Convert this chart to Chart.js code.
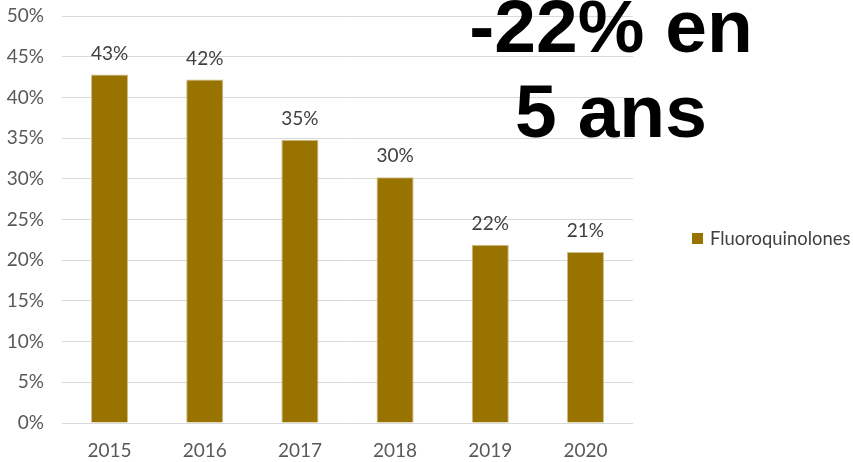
<!DOCTYPE html>
<html lang="fr">
<head>
<meta charset="utf-8">
<title>Fluoroquinolones 2015-2020</title>
<script src="https://cdn.jsdelivr.net/npm/chart.js@4"></script>
<style>
  html, body { margin: 0; padding: 0; background: #fff; }
  #wrap { position: relative; width: 853px; height: 462px; }
  #headline {
    position: absolute; left: 461px; top: -16px; width: 300px;
    font: bold 75px/85px "Liberation Sans", Arial, sans-serif;
    color: #000; text-align: center; white-space: nowrap;
  }
  #legend {
    position: absolute; left: 692px; top: 227px;
    font: 18.4px Lato, sans-serif; color: #404040;
    display: flex; align-items: center; white-space: nowrap;
  }
  #legend .box { width: 11px; height: 11px; margin-right: 7px; }
</style>
</head>
<body>
<div id="wrap">
  <canvas id="myChart" width="853" height="462"></canvas>
  <div id="headline">-22% en<br>5 ans</div>
  <div id="legend"></div>
</div>
<script>
const years = ['2015', '2016', '2017', '2018', '2019', '2020'];
const fluoroShare = [42.8, 42.2, 34.8, 30.2, 21.9, 21.0];
const seriesName = 'Fluoroquinolones';
const barColor = '#997300';
const barEdge = '#cfbd8a';

// value labels above each bar
const barLabels = {
  id: 'barLabels',
  afterDatasetsDraw(chart) {
    const ctx = chart.ctx;
    const meta = chart.getDatasetMeta(0);
    ctx.save();
    ctx.font = '19px Lato, sans-serif';
    ctx.fillStyle = '#404040';
    ctx.textAlign = 'center';
    ctx.textBaseline = 'middle';
    meta.data.forEach((bar, i) => {
      const v = chart.data.datasets[0].data[i];
      ctx.fillText(Math.round(v) + '%', bar.x, bar.y - 21);
    });
    ctx.restore();
  }
};

const ctx = document.getElementById('myChart');
const chart = new Chart(ctx, {
  type: 'bar',
  data: {
    labels: years,
    datasets: [{
      label: seriesName,
      data: fluoroShare,
      backgroundColor: barColor,
      borderColor: barEdge,
      borderWidth: 1,
      barPercentage: 0.39,
      categoryPercentage: 1
    }]
  },
  options: {
    responsive: false,
    animation: false,
    layout: { padding: { left: 7, right: 220, top: 16, bottom: 3 } },
    plugins: {
      legend: { display: false },
      tooltip: { enabled: false }
    },
    scales: {
      x: {
        grid: { display: false, drawTicks: false },
        border: { display: false },
        ticks: { color: '#595959', font: { family: 'Lato', size: 19 }, padding: 16 },
        afterFit: scale => { scale.height = 36; }
      },
      y: {
        min: 0,
        max: 50,
        border: { display: false },
        grid: { color: '#d9d9d9', drawTicks: false },
        ticks: {
          stepSize: 5,
          color: '#595959',
          font: { family: 'Lato', size: 19 },
          padding: 18,
          callback: v => v + '%'
        },
        afterFit: scale => {
          scale.width = 55;
          scale.paddingTop = 0;
          scale.paddingBottom = 0;
        }
      }
    }
  },
  plugins: [barLabels]
});

// html legend built from the dataset
const legendEl = document.getElementById('legend');
chart.data.datasets.forEach(ds => {
  const box = document.createElement('span');
  box.className = 'box';
  box.style.background = ds.backgroundColor;
  const txt = document.createElement('span');
  txt.textContent = ds.label;
  legendEl.appendChild(box);
  legendEl.appendChild(txt);
});
</script>
</body>
</html>
